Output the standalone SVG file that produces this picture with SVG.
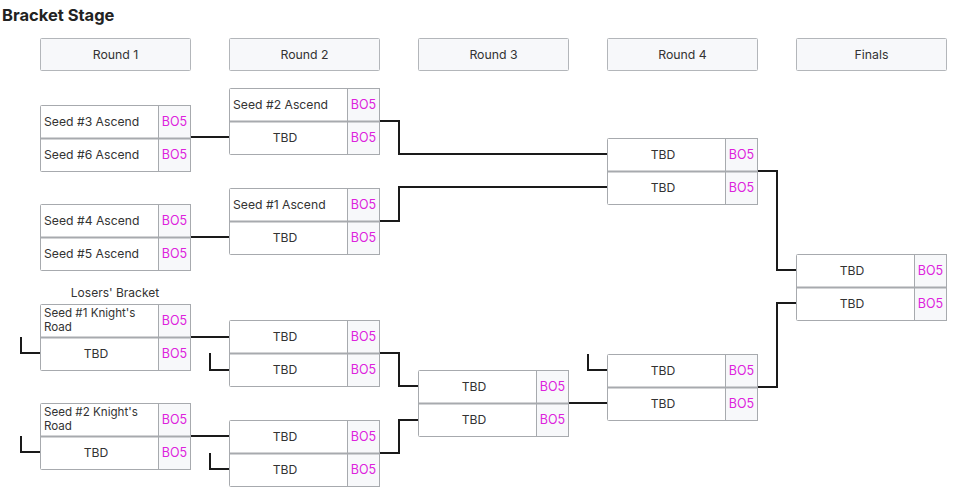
<svg xmlns="http://www.w3.org/2000/svg" width="953" height="493" viewBox="0 0 953 493">
<style>
.title{font-family:Inter,"Noto Sans",sans-serif;font-weight:700;font-size:16.5px;fill:#222}
.hdr rect{fill:#f7f8fa;stroke:#b3b6ba;stroke-width:1}
.hdr text{font-family:Inter,"Noto Sans",sans-serif;font-size:12.3px;fill:#333;text-anchor:middle}
.box{fill:#fff;stroke:#a7aaae;stroke-width:1}
.sc{fill:#f7f8fa;stroke:#a7aaae;stroke-width:1}
.sep{stroke:#a7aaae;stroke-width:2}
.nm{font-family:Inter,"Noto Sans",sans-serif;font-size:12.2px;fill:#333}
.nm2{font-family:Inter,"Noto Sans",sans-serif;font-size:11.6px;fill:#333}
.c{text-anchor:middle}
.bo{font-family:Inter,"Noto Sans",sans-serif;font-size:12.5px;fill:#dd22dd;text-anchor:middle}
.lbl{font-family:Inter,"Noto Sans",sans-serif;font-size:12px;fill:#333;text-anchor:middle}
#connectors path{fill:none;stroke:#1a1a1a;stroke-width:2}
</style>
<rect width="953" height="493" fill="#fff"/>
<text class="title" x="2" y="21">Bracket Stage</text>
<g id="headers" class="hdr">
<rect x="40.5" y="38.5" width="150" height="32" rx="1"/><text x="115.5" y="59">Round 1</text>
<rect x="229.5" y="38.5" width="150" height="32" rx="1"/><text x="304.5" y="59">Round 2</text>
<rect x="418.5" y="38.5" width="150" height="32" rx="1"/><text x="493.5" y="59">Round 3</text>
<rect x="607.5" y="38.5" width="150" height="32" rx="1"/><text x="682.5" y="59">Round 4</text>
<rect x="796.5" y="38.5" width="150" height="32" rx="1"/><text x="871.5" y="59">Finals</text>
</g>
<g id="connectors">
<path d="M190 137H229"/>
<path d="M190 237H229"/>
<path d="M379 121H399V154H607"/>
<path d="M379 221H399V187H607"/>
<path d="M757 171H777V270H796"/>
<path d="M757 387H777V303H796"/>
<path d="M190 337H229"/>
<path d="M21 337V353H40"/>
<path d="M210 353V370H229"/>
<path d="M190 436H229"/>
<path d="M21 436V452H40"/>
<path d="M210 453V469H229"/>
<path d="M379 353H399V386H418"/>
<path d="M379 453H399V420H418"/>
<path d="M568 403H607"/>
<path d="M588 354V370H607"/>
</g>
<text class="lbl" x="115" y="297">Losers' Bracket</text>
<g id="r1m1" transform="translate(40.5,105.5)">
<rect class="box" width="150" height="66" rx="1"/><rect class="sc" x="118" width="32" height="66"/><line class="sep" x1="0" y1="33" x2="150" y2="33"/>
<text class="nm" x="3.5" y="20">Seed #3 Ascend</text><text class="bo" x="134" y="20">BO5</text>
<text class="nm" x="3.5" y="53">Seed #6 Ascend</text><text class="bo" x="134" y="53">BO5</text>
</g>
<g id="r1m2" transform="translate(40.5,204.5)">
<rect class="box" width="150" height="66" rx="1"/><rect class="sc" x="118" width="32" height="66"/><line class="sep" x1="0" y1="33" x2="150" y2="33"/>
<text class="nm" x="3.5" y="20">Seed #4 Ascend</text><text class="bo" x="134" y="20">BO5</text>
<text class="nm" x="3.5" y="53">Seed #5 Ascend</text><text class="bo" x="134" y="53">BO5</text>
</g>
<g id="r1m3" transform="translate(40.5,304.5)">
<rect class="box" width="150" height="66" rx="1"/><rect class="sc" x="118" width="32" height="66"/><line class="sep" x1="0" y1="33" x2="150" y2="33"/>
<text class="nm2"><tspan x="3.5" y="12">Seed #1 Knight's</tspan><tspan x="3.5" y="26.5">Road</tspan></text><text class="bo" x="134" y="20">BO5</text>
<text class="nm c" x="55.5" y="53">TBD</text><text class="bo" x="134" y="53">BO5</text>
</g>
<g id="r1m4" transform="translate(40.5,403.5)">
<rect class="box" width="150" height="66" rx="1"/><rect class="sc" x="118" width="32" height="66"/><line class="sep" x1="0" y1="33" x2="150" y2="33"/>
<text class="nm2"><tspan x="3.5" y="12">Seed #2 Knight's</tspan><tspan x="3.5" y="26.5">Road</tspan></text><text class="bo" x="134" y="20">BO5</text>
<text class="nm c" x="55.5" y="53">TBD</text><text class="bo" x="134" y="53">BO5</text>
</g>
<g id="r2m1" transform="translate(229.5,88.5)">
<rect class="box" width="150" height="66" rx="1"/><rect class="sc" x="118" width="32" height="66"/><line class="sep" x1="0" y1="33" x2="150" y2="33"/>
<text class="nm" x="3.5" y="20">Seed #2 Ascend</text><text class="bo" x="134" y="20">BO5</text>
<text class="nm c" x="55.5" y="53">TBD</text><text class="bo" x="134" y="53">BO5</text>
</g>
<g id="r2m2" transform="translate(229.5,188.5)">
<rect class="box" width="150" height="66" rx="1"/><rect class="sc" x="118" width="32" height="66"/><line class="sep" x1="0" y1="33" x2="150" y2="33"/>
<text class="nm" x="3.5" y="20">Seed #1 Ascend</text><text class="bo" x="134" y="20">BO5</text>
<text class="nm c" x="55.5" y="53">TBD</text><text class="bo" x="134" y="53">BO5</text>
</g>
<g id="r2m3" transform="translate(229.5,320.5)">
<rect class="box" width="150" height="66" rx="1"/><rect class="sc" x="118" width="32" height="66"/><line class="sep" x1="0" y1="33" x2="150" y2="33"/>
<text class="nm c" x="55.5" y="20">TBD</text><text class="bo" x="134" y="20">BO5</text>
<text class="nm c" x="55.5" y="53">TBD</text><text class="bo" x="134" y="53">BO5</text>
</g>
<g id="r2m4" transform="translate(229.5,420.5)">
<rect class="box" width="150" height="66" rx="1"/><rect class="sc" x="118" width="32" height="66"/><line class="sep" x1="0" y1="33" x2="150" y2="33"/>
<text class="nm c" x="55.5" y="20">TBD</text><text class="bo" x="134" y="20">BO5</text>
<text class="nm c" x="55.5" y="53">TBD</text><text class="bo" x="134" y="53">BO5</text>
</g>
<g id="r3m1" transform="translate(418.5,370.5)">
<rect class="box" width="150" height="66" rx="1"/><rect class="sc" x="118" width="32" height="66"/><line class="sep" x1="0" y1="33" x2="150" y2="33"/>
<text class="nm c" x="55.5" y="20">TBD</text><text class="bo" x="134" y="20">BO5</text>
<text class="nm c" x="55.5" y="53">TBD</text><text class="bo" x="134" y="53">BO5</text>
</g>
<g id="r4m1" transform="translate(607.5,138.5)">
<rect class="box" width="150" height="66" rx="1"/><rect class="sc" x="118" width="32" height="66"/><line class="sep" x1="0" y1="33" x2="150" y2="33"/>
<text class="nm c" x="55.5" y="20">TBD</text><text class="bo" x="134" y="20">BO5</text>
<text class="nm c" x="55.5" y="53">TBD</text><text class="bo" x="134" y="53">BO5</text>
</g>
<g id="r4m2" transform="translate(607.5,354.5)">
<rect class="box" width="150" height="66" rx="1"/><rect class="sc" x="118" width="32" height="66"/><line class="sep" x1="0" y1="33" x2="150" y2="33"/>
<text class="nm c" x="55.5" y="20">TBD</text><text class="bo" x="134" y="20">BO5</text>
<text class="nm c" x="55.5" y="53">TBD</text><text class="bo" x="134" y="53">BO5</text>
</g>
<g id="finals" transform="translate(796.5,254.5)">
<rect class="box" width="150" height="66" rx="1"/><rect class="sc" x="118" width="32" height="66"/><line class="sep" x1="0" y1="33" x2="150" y2="33"/>
<text class="nm c" x="55.5" y="20">TBD</text><text class="bo" x="134" y="20">BO5</text>
<text class="nm c" x="55.5" y="53">TBD</text><text class="bo" x="134" y="53">BO5</text>
</g>
</svg>
